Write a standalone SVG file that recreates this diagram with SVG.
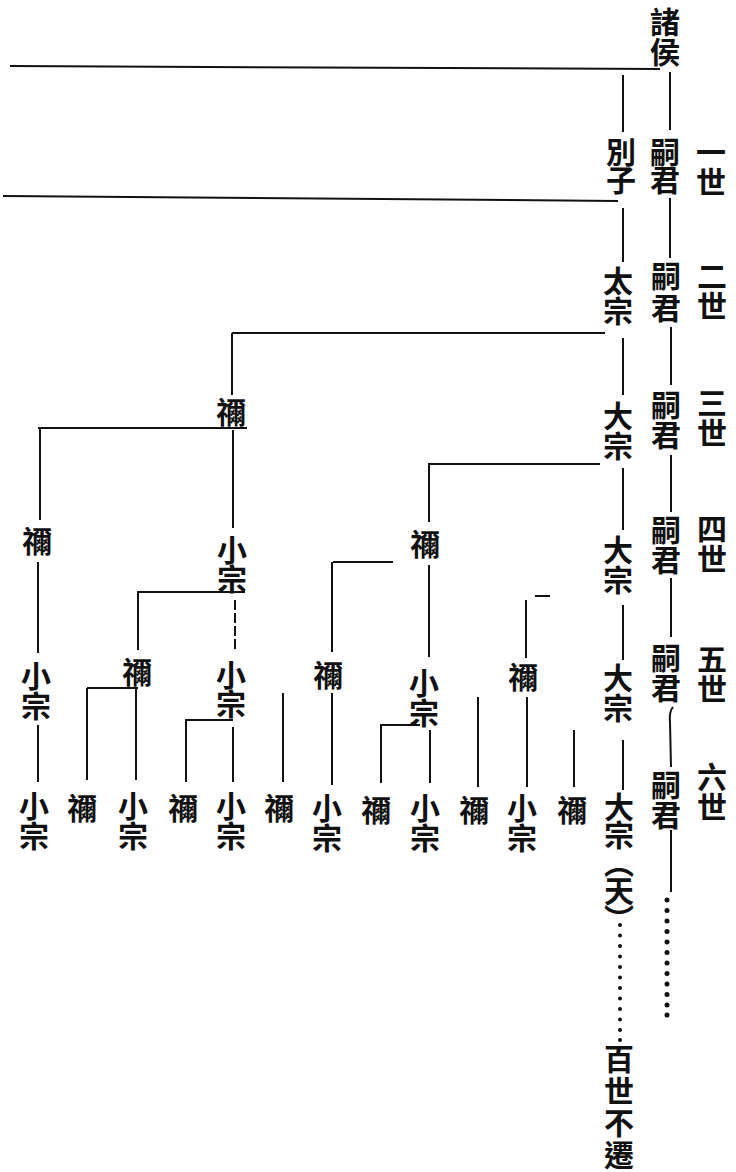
<svg xmlns="http://www.w3.org/2000/svg" width="736" height="1172" viewBox="0 0 736 1172">
<style>
.t{font-family:"Noto Sans CJK TC","Noto Sans CJK SC",sans-serif;font-size:30px;font-weight:700;fill:#111;writing-mode:vertical-rl;letter-spacing:0px}
.l{stroke:#111;stroke-width:2;fill:none;stroke-linecap:butt}
.d{fill:#111}
</style>
<rect width="736" height="1172" fill="#fff"/>
<g id="connectors" class="l">
<path d="M10 66 L660 69"/>
<path d="M670 72 V130"/>
<path d="M623 75 V132"/>
<path d="M3 196 L618 201"/>
<path d="M623 208 V262"/>
<path d="M670 198 V258"/>
<path d="M232 333 H605"/>
<path d="M232 333 V395"/>
<path d="M623 338 V395"/>
<path d="M671 327 V385"/>
<path d="M428 464 H600"/>
<path d="M429 464 V522"/>
<path d="M623 468 V530"/>
<path d="M671 455 V512"/>
<path d="M38 428 H247"/>
<path d="M40 428 V520"/>
<path d="M233 430 V528"/>
<path d="M38 562 V653"/>
<path d="M137 592 H245"/>
<path d="M138 592 V650"/>
<path d="M235 600 V650" stroke-dasharray="10 3"/>
<path d="M333 562 H393"/>
<path d="M332 562 V652"/>
<path d="M429 565 V657"/>
<path d="M623 605 V660"/>
<path d="M526 600 V658"/>
<path d="M535 596 H550"/>
<path d="M671 578 V637"/>
<path d="M38 725 V782"/>
<path d="M87 688 H138"/>
<path d="M87 688 V780"/>
<path d="M136 688 V780"/>
<path d="M185 720 H233"/>
<path d="M186 720 V782"/>
<path d="M233 727 V782"/>
<path d="M283 693 V782"/>
<path d="M332 693 V785"/>
<path d="M380 725 H420"/>
<path d="M381 725 V783"/>
<path d="M430 730 V783"/>
<path d="M478 697 V787"/>
<path d="M527 697 V787"/>
<path d="M574 730 V787"/>
<path d="M623 740 V790"/>
<path d="M673 707 Q669 712 670 722 L671 767"/>
<path d="M671 830 V892"/>
</g>
<g id="dots1" class="d">
<circle cx="667" cy="900" r="2.5"/><circle cx="667" cy="910.5" r="2.5"/><circle cx="667" cy="921" r="2.5"/><circle cx="667" cy="931.5" r="2.5"/><circle cx="667" cy="942" r="2.5"/><circle cx="667" cy="952.5" r="2.5"/><circle cx="667" cy="963" r="2.5"/><circle cx="667" cy="973.5" r="2.5"/><circle cx="667" cy="984" r="2.5"/><circle cx="667" cy="994.5" r="2.5"/><circle cx="667" cy="1005" r="2.5"/><circle cx="667" cy="1015" r="2.5"/>
</g>
<g id="dots2" class="d">
<circle cx="620" cy="925" r="2"/><circle cx="620" cy="935.5" r="2"/><circle cx="620" cy="946" r="2"/><circle cx="620" cy="956.5" r="2"/><circle cx="620" cy="967" r="2"/><circle cx="620" cy="977.5" r="2"/><circle cx="620" cy="988" r="2"/><circle cx="620" cy="998.5" r="2"/><circle cx="620" cy="1009" r="2"/><circle cx="620" cy="1019.5" r="2"/><circle cx="620" cy="1030" r="2"/><circle cx="620" cy="1040" r="2"/>
</g>
<g id="n-zhuhou"><text class="t" x="665" y="7">諸侯</text></g>
<g id="n-biezi"><text class="t" x="621" y="137" style="letter-spacing:-2px">別子</text></g>
<g id="n-siju1"><text class="t" x="665" y="137" style="letter-spacing:-2px">嗣君</text></g>
<g id="n-gen1"><text class="t" x="711" y="137">一世</text></g>
<g id="n-taizong"><text class="t" x="618" y="266">太宗</text></g>
<g id="n-siju2"><text class="t" x="666" y="261" style="letter-spacing:2px">嗣君</text></g>
<g id="n-gen2"><text class="t" x="712" y="261">二世</text></g>
<g id="n-dazong3"><text class="t" x="618" y="401">大宗</text></g>
<g id="n-siju3"><text class="t" x="666" y="390">嗣君</text></g>
<g id="n-gen3"><text class="t" x="712" y="388">三世</text></g>
<g id="n-ni3"><text class="t" x="231" y="397">禰</text></g>
<g id="n-ni4a"><text class="t" x="37" y="526">禰</text></g>
<g id="n-xz4"><text class="t" x="232" y="535" style="letter-spacing:-1px">小宗</text></g>
<g id="n-ni4b"><text class="t" x="425" y="529">禰</text></g>
<g id="n-dazong4"><text class="t" x="618" y="535">大宗</text></g>
<g id="n-siju4"><text class="t" x="666" y="515">嗣君</text></g>
<g id="n-gen4"><text class="t" x="712" y="514">四世</text></g>
<g id="n-xz5a"><text class="t" x="36" y="661">小宗</text></g>
<g id="n-ni5a"><text class="t" x="137" y="657">禰</text></g>
<g id="n-xz5b"><text class="t" x="231" y="660" style="letter-spacing:-1px">小宗</text></g>
<g id="n-ni5b"><text class="t" x="328" y="660">禰</text></g>
<g id="n-xz5c"><text class="t" x="424" y="668">小宗</text></g>
<g id="n-ni5c"><text class="t" x="523" y="662">禰</text></g>
<g id="n-dazong5"><text class="t" x="618" y="663">大宗</text></g>
<g id="n-siju5"><text class="t" x="666" y="643">嗣君</text></g>
<g id="n-gen5"><text class="t" x="712" y="644">五世</text></g>
<g id="n-xz6a"><text class="t" x="34" y="791">小宗</text></g>
<g id="n-ni6a"><text class="t" x="82" y="793">禰</text></g>
<g id="n-xz6b"><text class="t" x="133" y="791">小宗</text></g>
<g id="n-ni6b"><text class="t" x="183" y="793">禰</text></g>
<g id="n-xz6c"><text class="t" x="231" y="791">小宗</text></g>
<g id="n-ni6c"><text class="t" x="279" y="793">禰</text></g>
<g id="n-xz6d"><text class="t" x="327" y="793">小宗</text></g>
<g id="n-ni6d"><text class="t" x="376" y="795">禰</text></g>
<g id="n-xz6e"><text class="t" x="425" y="793">小宗</text></g>
<g id="n-ni6e"><text class="t" x="474" y="795">禰</text></g>
<g id="n-xz6f"><text class="t" x="522" y="793">小宗</text></g>
<g id="n-ni6f"><text class="t" x="572" y="795">禰</text></g>
<g id="n-dazong6"><text class="t" x="619" y="792" style="letter-spacing:-2px">大宗（天）</text></g>
<g id="n-siju6"><text class="t" x="666" y="770">嗣君</text></g>
<g id="n-gen6"><text class="t" x="712" y="762">六世</text></g>
<g id="n-baishi"><text class="t" x="619" y="1044" style="letter-spacing:2px">百世不遷</text></g>
</svg>
